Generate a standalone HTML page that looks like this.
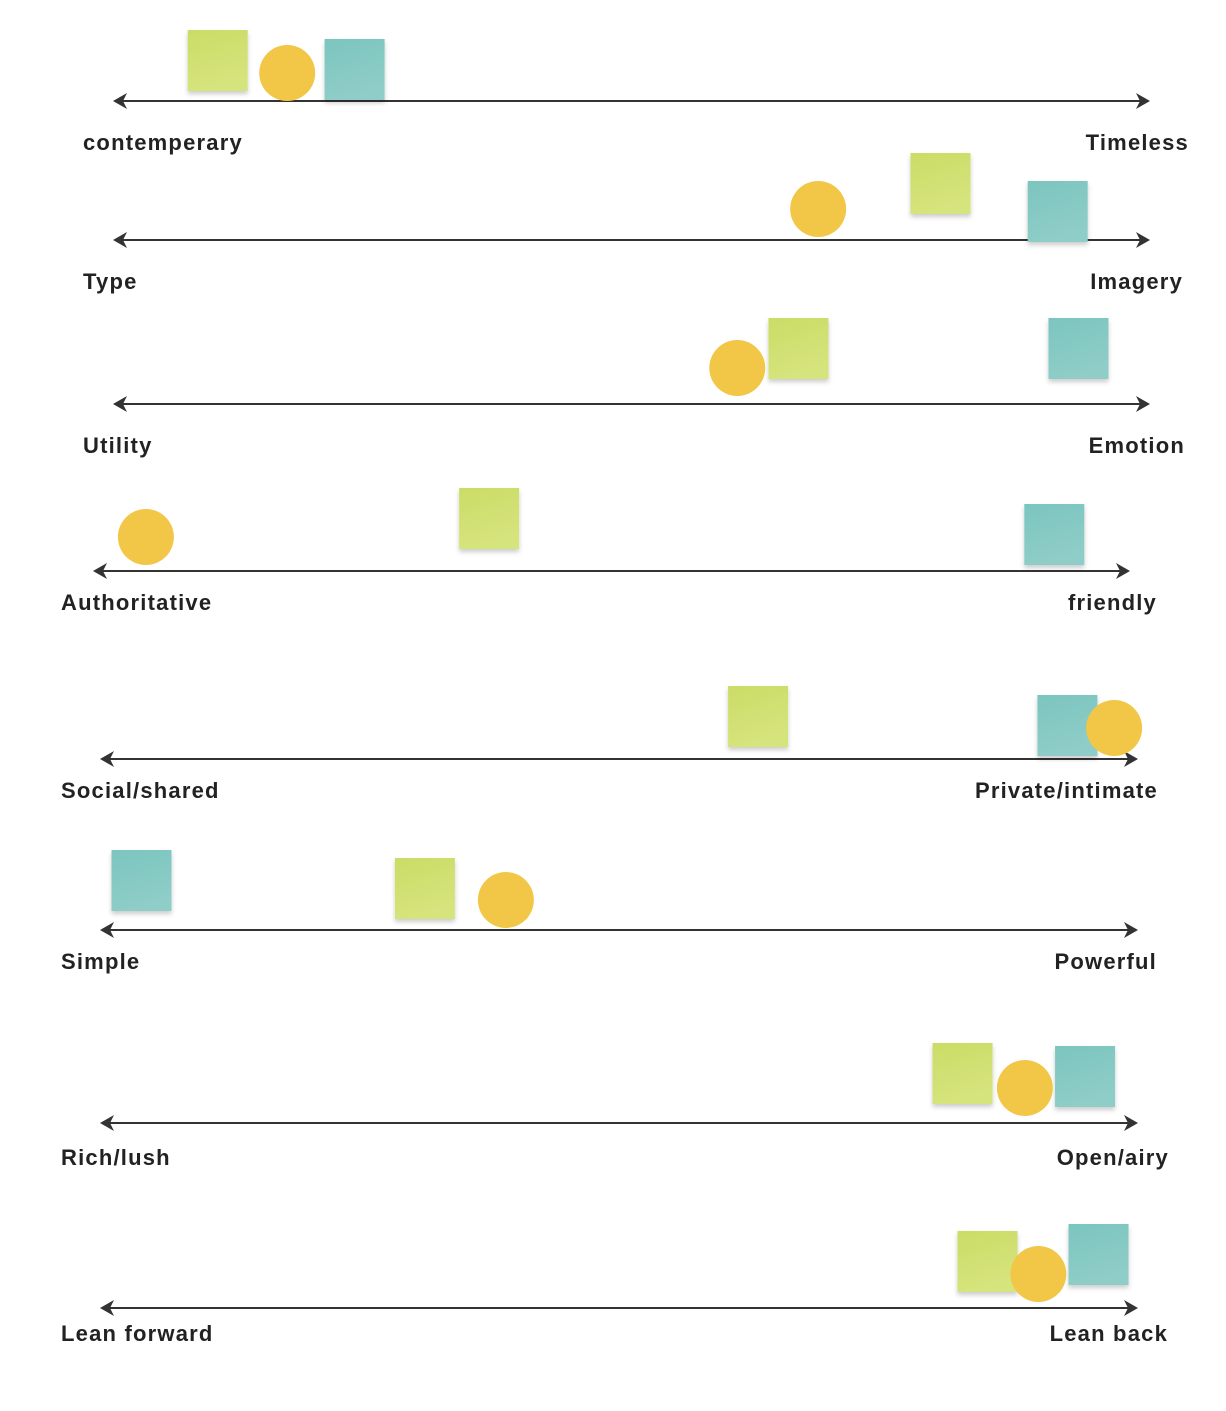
<!DOCTYPE html>
<html><head><meta charset="utf-8">
<style>
html,body{margin:0;padding:0;background:#fff;}
body{width:1226px;height:1406px;overflow:hidden;}
svg text{font-family:"Liberation Sans",sans-serif;font-weight:bold;font-size:22px;letter-spacing:1.2px;fill:#222;}
</style></head>
<body>
<svg id="chart" width="1226" height="1406" viewBox="0 0 1226 1406" xmlns="http://www.w3.org/2000/svg">
<defs>
<linearGradient id="gGreen" x1="0" y1="0" x2="0.3" y2="1"><stop offset="0" stop-color="#cbdc66"/><stop offset="1" stop-color="#d6e47d"/></linearGradient>
<linearGradient id="gTeal" x1="0" y1="0" x2="0.3" y2="1"><stop offset="0" stop-color="#7cc5bf"/><stop offset="1" stop-color="#8fcdc8"/></linearGradient>
<filter id="sh" x="-20%" y="-20%" width="140%" height="150%"><feDropShadow dx="0" dy="3" stdDeviation="2.5" flood-color="#000" flood-opacity="0.2"/></filter>
</defs>
</svg>
<script>
// Data: position along each spectrum, 0 = left pole, 100 = right pole
const leftLabels = ["contemperary","Type","Utility","Authoritative","Social/shared","Simple","Rich/lush","Lean forward"];
const rightLabels = ["Timeless","Imagery","Emotion","friendly","Private/intimate","Powerful","Open/airy","Lean back"];
const greenValues = [10.1, 79.8, 66.1, 38.2, 63.4, 31.3, 83.1, 85.5];
const yellowValues = [16.8, 68.0, 60.2, 5.1, 97.7, 39.1, 89.1, 90.4];
const tealValues = [23.3, 91.1, 93.1, 92.7, 93.2, 4.0, 94.9, 96.2];

// Layout (pixels)
const rows = [
  {y:101,x0:113,x1:1150,ly:143,lx:83,rx:1189, gy:61,yy:73,ty:70},
  {y:240,x0:113,x1:1150,ly:282,lx:83,rx:1183, gy:184,yy:209,ty:212},
  {y:404,x0:113,x1:1150,ly:446,lx:83,rx:1185, gy:349,yy:368,ty:349},
  {y:571,x0:93,x1:1130,ly:603,lx:61,rx:1157, gy:519,yy:537,ty:535},
  {y:759,x0:100,x1:1138,ly:791,lx:61,rx:1158, gy:717,yy:728,ty:726},
  {y:930,x0:100,x1:1138,ly:962,lx:61,rx:1157, gy:889,yy:900,ty:881},
  {y:1123,x0:100,x1:1138,ly:1158,lx:61,rx:1169, gy:1074,yy:1088,ty:1077},
  {y:1308,x0:100,x1:1138,ly:1334,lx:61,rx:1168, gy:1262,yy:1274,ty:1255}
];
const NS="http://www.w3.org/2000/svg";
const svg=document.getElementById('chart');
function mk(tag,attrs,parent){const e=document.createElementNS(NS,tag);for(const k in attrs)e.setAttribute(k,attrs[k]);(parent||svg).appendChild(e);return e;}
function xScale(r,v){return r.x0+(r.x1-r.x0)*v/100;}
rows.forEach((r,i)=>{
  const g=mk('g',{});
  
  
  const line=mk('line',{x1:r.x0+4,y1:r.y,x2:r.x1-4,y2:r.y,stroke:'#333','stroke-width':2},g);
  
  
  const la=mk('path',{d:`M${r.x0},${r.y} L${r.x0+14},${r.y-8} L${r.x0+10},${r.y} L${r.x0+14},${r.y+8} Z`,fill:'#333'},g);
  
  
  const ra=mk('path',{d:`M${r.x1},${r.y} L${r.x1-14},${r.y-8} L${r.x1-10},${r.y} L${r.x1-14},${r.y+8} Z`,fill:'#333'},g);
  
  
  const lt=mk('text',{x:r.lx,y:r.ly+7},g);lt.textContent=leftLabels[i];
  
  
  const rt=mk('text',{x:r.rx,y:r.ly+7,'text-anchor':'end'},g);rt.textContent=rightLabels[i];
  
  
  const gx=xScale(r,greenValues[i]);
  const gs=mk('rect',{x:gx-30,y:r.gy-31,width:60,height:61,fill:'url(#gGreen)',filter:'url(#sh)'},g);
  
  
  const tx=xScale(r,tealValues[i]);
  const ts=mk('rect',{x:tx-30,y:r.ty-31,width:60,height:61,fill:'url(#gTeal)',filter:'url(#sh)'},g);
  
  
  const yx=xScale(r,yellowValues[i]);
  const yc=mk('circle',{cx:yx,cy:r.yy,r:28,fill:'#f2c646'},g);
  
  
});
</script>
</body></html>
